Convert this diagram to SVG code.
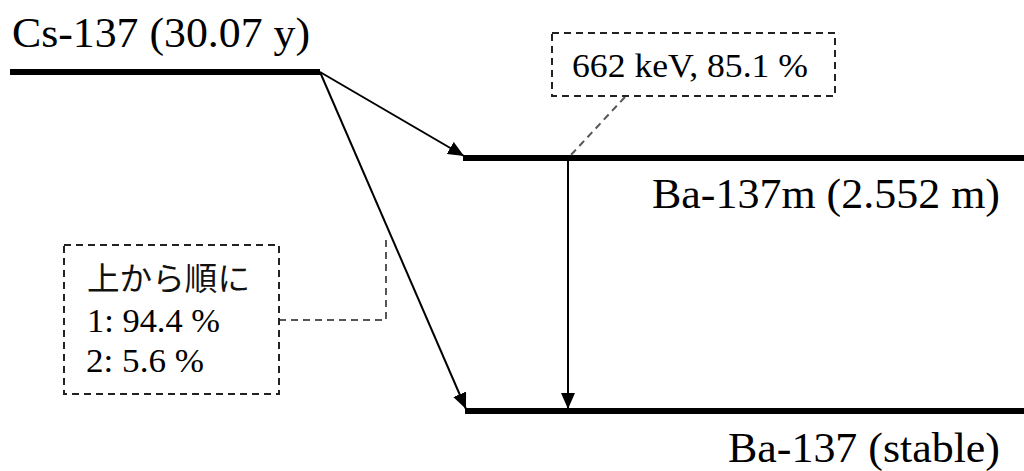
<svg xmlns="http://www.w3.org/2000/svg" width="1024" height="471" viewBox="0 0 1024 471">
  <defs>
    <marker id="head" viewBox="0 0 16 14" refX="16" refY="7" markerWidth="16" markerHeight="14" markerUnits="userSpaceOnUse" orient="auto">
      <path d="M0,0 L16,7 L0,14 Z" fill="#000"/>
    </marker>
    <style>
      .level { stroke: #000; stroke-width: 6; stroke-linecap: butt; fill: none; }
      .arrow { stroke: #000; stroke-width: 2; fill: none; marker-end: url(#head); }
      .box { fill: #fff; stroke: #222; stroke-width: 2; stroke-dasharray: 7 5; }
      .leader { stroke: #555; stroke-width: 2; stroke-dasharray: 7 5; fill: none; }
      .lbl { font-family: "Liberation Serif", "Times New Roman", serif; fill: #000; }
      .jp { font-family: "Noto Sans CJK JP", "Noto Sans", sans-serif; fill: #111; }
    </style>
  </defs>

  <rect width="1024" height="471" fill="#fff"/>

  <!-- energy levels -->
  <g id="cs137">
    <line class="level" x1="10" y1="72" x2="320" y2="72"/>
    <text class="lbl" x="12" y="47" font-size="43" textLength="298" lengthAdjust="spacingAndGlyphs">Cs-137 (30.07 y)</text>
  </g>
  <g id="ba137m">
    <line class="level" x1="463" y1="158" x2="1024" y2="158"/>
    <text class="lbl" x="652" y="208" font-size="43" textLength="348" lengthAdjust="spacingAndGlyphs">Ba-137m (2.552 m)</text>
  </g>
  <g id="ba137">
    <line class="level" x1="465" y1="411" x2="1024" y2="411"/>
    <text class="lbl" x="728" y="462" font-size="43" textLength="272" lengthAdjust="spacingAndGlyphs">Ba-137 (stable)</text>
  </g>

  <!-- transitions -->
  <g id="connectors">
    <line class="arrow" x1="320" y1="72" x2="464" y2="156"/>
    <line class="arrow" x1="320" y1="72" x2="466" y2="409"/>
    <line class="arrow" x1="568" y1="158" x2="568" y2="409"/>
    <line class="leader" x1="625" y1="97" x2="570" y2="156"/>
    <polyline class="leader" points="279,320 386,320 386,235"/>
  </g>

  <!-- annotation boxes -->
  <g id="gamma-note">
    <rect class="box" x="552" y="33" width="283" height="63"/>
    <text class="lbl" x="572" y="77" font-size="34" textLength="236" lengthAdjust="spacingAndGlyphs">662 keV, 85.1 %</text>
  </g>
  <g id="branch-note">
    <rect class="box" x="64" y="245" width="215" height="149"/>
    <text class="jp" x="87" y="290" font-size="32" textLength="163" lengthAdjust="spacingAndGlyphs">上から順に</text>
    <text class="lbl" x="87" y="332" font-size="34" textLength="133" lengthAdjust="spacingAndGlyphs">1: 94.4 %</text>
    <text class="lbl" x="86" y="372" font-size="34" textLength="118" lengthAdjust="spacingAndGlyphs">2: 5.6 %</text>
  </g>
</svg>
